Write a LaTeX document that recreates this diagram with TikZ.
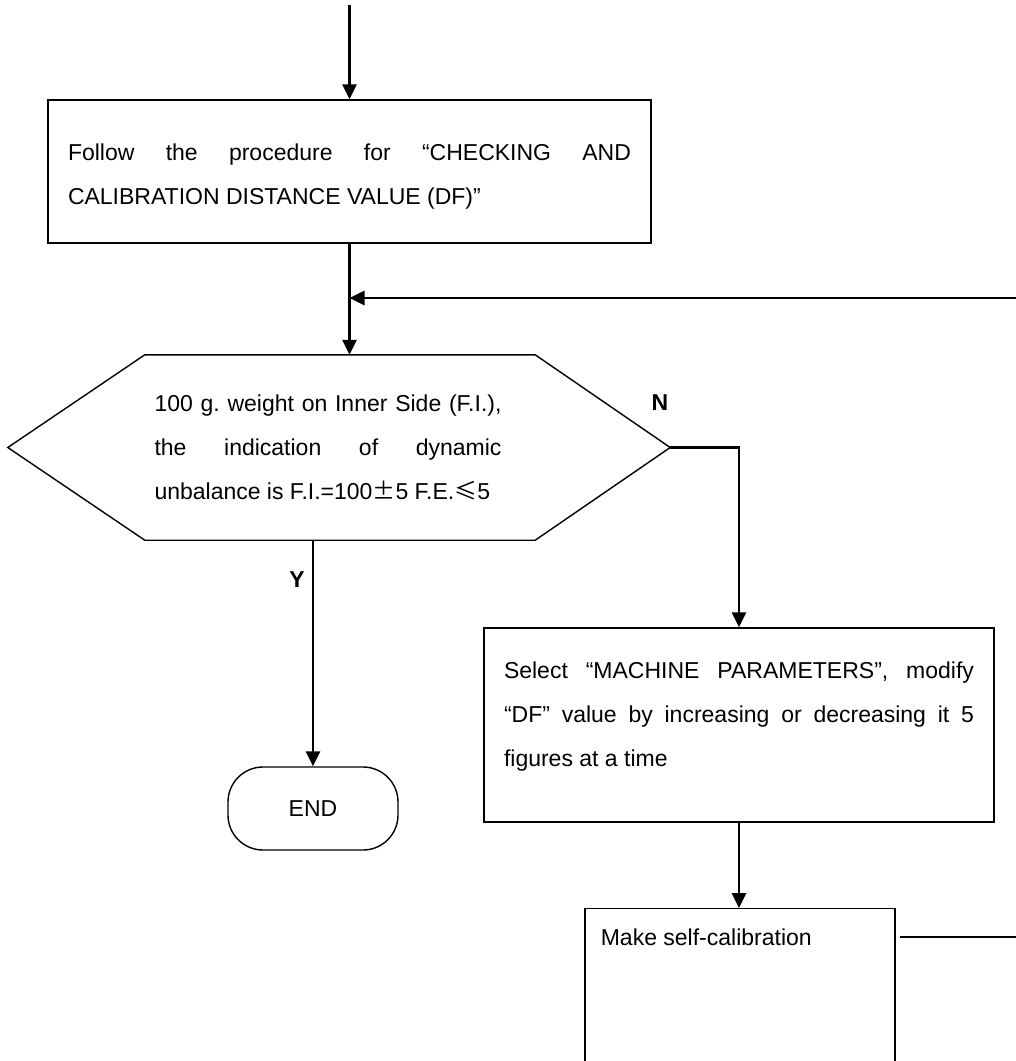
\documentclass[tikz,border=0pt]{standalone}
\usepackage{fontspec}
\setmainfont{Liberation Sans}
\newfontfamily\cjkfont{Noto Sans CJK SC}
\usetikzlibrary{positioning, arrows.meta, calc}
\frenchspacing

\begin{document}
\begin{tikzpicture}[x=1pt, y=-1pt,
    box/.style={rectangle, draw=black, line width=1.4pt, inner xsep=20pt, align=justify,
                font=\fontsize{23}{44}\selectfont},
    flow/.style={line width=2.6pt},
    flowarrow/.style={flow, -{Triangle[length=15pt, width=14pt]}},
    tag/.style={font=\fontsize{23}{26}\selectfont\bfseries}
]
\useasboundingbox (0,0) rectangle (1016,1061);

% Steps
\node[box, text width=563pt, minimum width=603pt, minimum height=143pt] (check) at (349.5,171.5)
    {Follow the procedure for “CHECKING AND\linebreak CALIBRATION DISTANCE VALUE (DF)”\par\vskip-50pt\mbox{}};
\node[inner sep=0pt, font=\fontsize{23}{44}\selectfont, minimum width=662pt, minimum height=185pt] (cond) at (339,447.5)
    {\parbox{347pt}{100 g. weight on Inner Side (F.I.),\linebreak the indication of dynamic\linebreak unbalance is F.I.=100{\cjkfont ±}5 F.E.{\cjkfont ≤}5}\rule{22pt}{0pt}};
\draw[line width=1.4pt] (cond.west) -- ($(cond.north west)+(137,0)$) -- ($(cond.north east)+(-135,0)$)
    -- (cond.east) -- ($(cond.south east)+(-135,0)$) -- ($(cond.south west)+(137,0)$) -- cycle;
\node[box, text width=470pt, minimum width=510pt, minimum height=194pt] (adjust) at (739,725)
    {Select “MACHINE PARAMETERS”, modify\linebreak “DF” value by increasing or decreasing it 5\linebreak figures at a time\par\vskip-22pt\mbox{}};
\node[box, minimum width=310pt, minimum height=200pt, anchor=north,
      label={[anchor=west, xshift=13pt, yshift=-29pt, font=\fontsize{23}{26}\selectfont]north west:Make self-calibration}]
    (calib) at (740,908) {};
\node[box, align=center, rounded corners=35pt, minimum width=170pt, minimum height=83pt] (stop) at (313,808.5) {END};

% Answers
\node[tag] (yes) at (297,580) {Y};
\node[tag] (no) at (660,403) {N};

% Flow
\coordinate (start) at (349.5,5);
\coordinate (loopin) at (1016,298);
\coordinate (loopout) at (1016,937);
\draw[flowarrow] (start) -- (check.north);
\draw[flowarrow] (check.south) -- (check.south |- cond.north);
\draw[flowarrow] (loopin) -- (loopin -| check.south);
\draw[flowarrow] (cond.east) -| (adjust.north);
\draw[flowarrow] (stop.north |- cond.south) -- (stop.north);
\draw[flowarrow] (adjust.south) -- (adjust.south |- calib.north);
\draw[flow] ([xshift=4pt]calib.east |- loopout) -- (loopout);

\end{tikzpicture}
\end{document}
